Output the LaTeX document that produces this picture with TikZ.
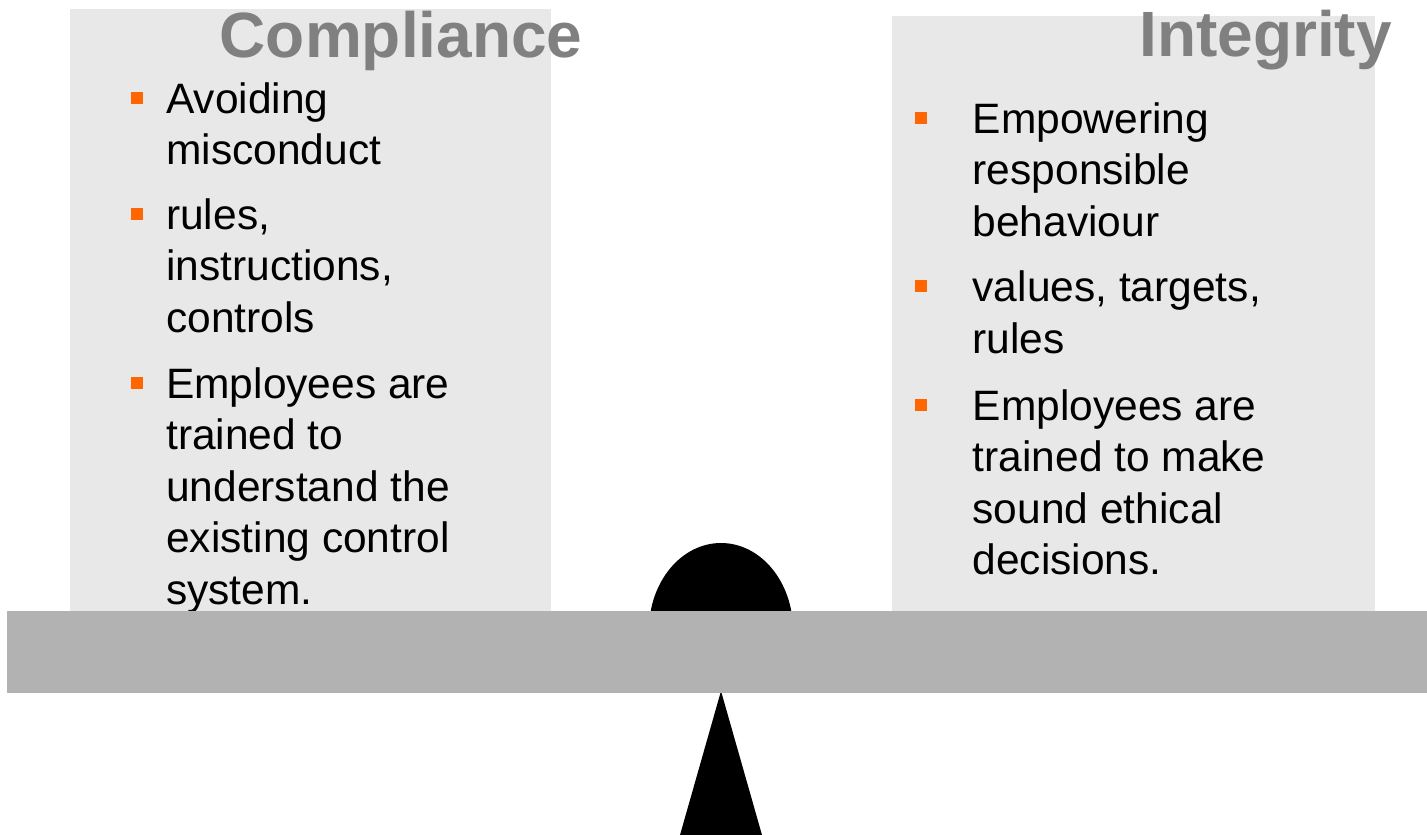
\documentclass[tikz,border=0pt]{standalone}
\usepackage{fontspec}
\setmainfont{Liberation Sans}
\usetikzlibrary{calc}
\usetikzlibrary{positioning}

\definecolor{panelgray}{RGB}{232,232,232}
\definecolor{beamgray}{RGB}{178,178,178}
\definecolor{headgray}{RGB}{128,128,128}
\definecolor{bulletorange}{RGB}{255,102,0}

% lines kept in a top-aligned tabular so that base west is the first line
\newcommand{\itemlines}[1]{\begin{tabular}[t]{@{}l@{}}#1\end{tabular}}

\tikzset{
  panel/.style={fill=panelgray},
  heading/.style={anchor=base west, inner sep=0pt, text=headgray, font=\fontsize{64}{64}\selectfont\bfseries},
  itemtext/.style={anchor=base west, inner sep=0pt, font=\fontsize{42.5}{51.5}\selectfont},
  sqbullet/.style={fill=bulletorange, inner sep=0pt, minimum size=12pt},
}

\begin{document}
\begin{tikzpicture}[x=1pt, y=-1pt]
    \useasboundingbox (0,0) rectangle (1427,835);
    % panels behind the two lists
    \fill[panel] (70,9) rectangle (551,611);
    \fill[panel] (892,16) rectangle (1375,611);

    \node[heading] (compliance) at (219.5,57.5) {Compliance};
    \node[heading] (integrity) at (1139,56) {Integrity};

    % left list
    \node[itemtext] (c1) at (166,113) {\itemlines{Avoiding\\misconduct}};
    \node[itemtext] (c2) at (166,229) {\itemlines{rules,\\instructions,\\controls}};
    \node[itemtext] (c3) at (166,398) {\itemlines{Employees are\\trained to\\understand the\\existing control\\system.}};
    \node[sqbullet] (cb1) at ($(c1.base west)+(-29,-15.5)$) {};
    \node[sqbullet] (cb2) at ($(c2.base west)+(-29,-15.5)$) {};
    \node[sqbullet] (cb3) at ($(c3.base west)+(-29,-15.5)$) {};

    % right list
    \node[itemtext] (i1) at (972.5,133) {\itemlines{Empowering\\responsible\\behaviour}};
    \node[itemtext] (i2) at (972.5,301.5) {\itemlines{values, targets,\\rules}};
    \node[itemtext] (i3) at (972.5,420) {\itemlines{Employees are\\trained to make\\sound ethical\\decisions.}};
    \node[sqbullet] (ib1) at ($(i1.base west)+(-51.5,-15.5)$) {};
    \node[sqbullet] (ib2) at ($(i2.base west)+(-51.5,-15.5)$) {};
    \node[sqbullet] (ib3) at ($(i3.base west)+(-51.5,-15.5)$) {};

    % the balance: pivot, weight and beam
    \fill (680,835) -- (721,691) -- (762,835) -- cycle;
    \fill (649,630) arc[start angle=180, end angle=360, x radius=72, y radius=87] -- cycle;
    \fill[beamgray] (7,611) rectangle (1427,693);
\end{tikzpicture}
\end{document}
